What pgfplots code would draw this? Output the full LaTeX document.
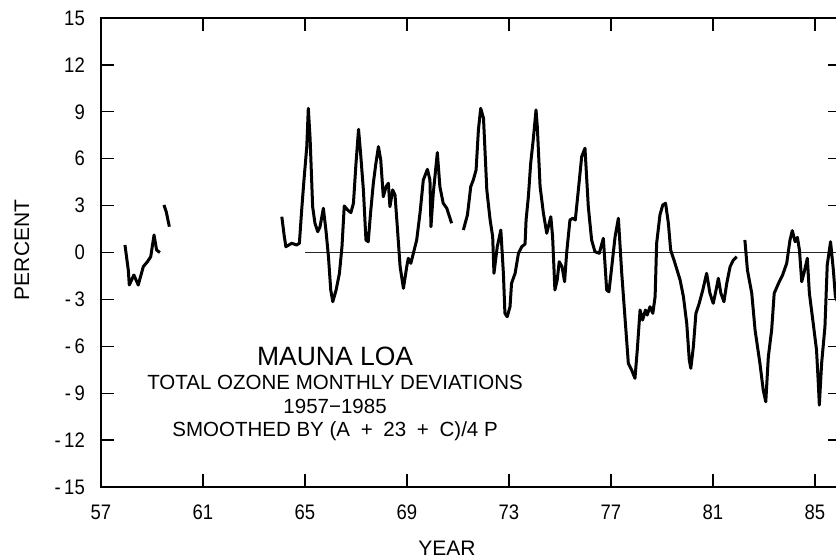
\documentclass[border=0pt]{standalone}
\usepackage{pgfplots}
\pgfplotsset{compat=1.18}
\usepackage{fontspec}
\setmainfont{Liberation Sans}
\newfontfamily\narrowfont[FakeStretch=0.88]{Liberation Sans}

\begin{document}
\begin{tikzpicture}
\begin{axis}[
    at={(0,0)}, anchor=south west,
    scale only axis,
    width=739.5pt, height=469pt,
    xmin=57, xmax=86,
    ymin=-15, ymax=15,
    xtick={57,61,65,69,73,77,81,85},
    ytick={-15,-12,-9,-6,-3,0,3,6,9,12,15},
    yticklabels={-\,15,-\,12,-\,9,-\,6,-\,3,0,3,6,9,12,15},
    xticklabels={57,61,65,69,73,77,81,85},
    tick align=inside,
    major tick length=13pt,
    axis line style={line width=2.2pt},
    every tick/.style={black, line width=1.3pt},
    xticklabel style={font=\narrowfont\fontsize{21}{23}\selectfont, anchor=center, yshift=-25pt, inner sep=0pt},
    yticklabel style={font=\narrowfont\fontsize{21}{23}\selectfont, anchor=east, xshift=-16pt, inner sep=0pt},
    clip=false,
]
% zero line
\addplot[black!85, line width=0.8pt] coordinates {(65,0) (86,0)};

% 1957-1960
\addplot[black, line width=3pt, line join=round] coordinates {
(57.94,0.48) (58.07,-1.12) (58.11,-2.08) (58.29,-1.44) (58.46,-2.08) (58.66,-0.9)
(58.82,-0.59) (58.95,-0.27) (59.08,1.12) (59.18,0.16) (59.31,0.0)
};
\addplot[black, line width=3pt, line join=round] coordinates {
(59.47,3.04) (59.56,2.6) (59.68,1.65)
};

% 1964-1970
\addplot[black, line width=3pt, line join=round] coordinates {
(64.09,2.29) (64.18,1.12) (64.25,0.37) (64.48,0.59) (64.67,0.48) (64.78,0.59)
(64.87,2.72) (64.96,4.64) (65.07,6.77) (65.13,9.22) (65.20,7.30) (65.30,2.93)
(65.39,1.87) (65.50,1.33) (65.59,1.65) (65.72,2.83) (65.82,1.44) (65.92,-0.27)
(66.01,-2.40) (66.09,-3.15) (66.22,-2.40) (66.35,-1.33) (66.45,0.37) (66.54,2.98)
(66.67,2.72) (66.80,2.55) (66.90,3.15) (67.00,5.70) (67.10,7.88) (67.18,6.35)
(67.29,4.00) (67.39,0.80) (67.48,0.69) (67.57,2.51) (67.68,4.43) (67.78,5.70)
(67.88,6.77) (67.97,5.92) (68.07,3.57) (68.18,4.21) (68.27,4.43) (68.33,2.93)
(68.44,4.00) (68.53,3.68) (68.62,1.65) (68.73,-0.91) (68.86,-2.29) (68.99,-0.91)
(69.05,-0.37) (69.15,-0.69) (69.25,-0.05) (69.38,0.80) (69.51,2.51) (69.64,4.64)
(69.80,5.32) (69.90,4.64) (69.94,1.65) (70.03,3.79) (70.19,6.39) (70.29,4.21)
(70.42,3.15) (70.56,2.83) (70.75,1.87)
};

% 1971-1981
\addplot[black, line width=3pt, line join=round] coordinates {
(71.21,1.44) (71.37,2.40) (71.50,4.21) (71.60,4.64) (71.71,5.28) (71.80,7.84)
(71.89,9.22) (72.00,8.59) (72.13,4.00) (72.26,2.08) (72.36,1.01) (72.41,-1.33)
(72.54,0.37) (72.68,1.44) (72.78,-1.33) (72.84,-3.89) (72.93,-4.11) (73.04,-3.47)
(73.10,-1.97) (73.24,-1.33) (73.37,-0.05) (73.50,0.37) (73.63,0.54) (73.67,2.08)
(73.76,3.57) (73.85,5.70) (73.95,7.20) (74.06,9.12) (74.11,8.05) (74.22,4.21)
(74.35,2.51) (74.48,1.23) (74.64,2.29) (74.71,1.01) (74.80,-2.40) (74.89,-1.76)
(74.97,-0.59) (75.08,-0.91) (75.18,-1.87) (75.26,-0.05) (75.39,2.08) (75.50,2.19)
(75.60,2.08) (75.72,4.00) (75.85,6.13) (75.98,6.67) (76.11,2.93) (76.24,0.80)
(76.37,0.05) (76.54,-0.05) (76.70,0.91) (76.83,-2.40) (76.92,-2.51) (77.03,-0.91)
(77.16,1.01) (77.29,2.19) (77.42,-1.30) (77.55,-4.20) (77.68,-7.09) (77.81,-7.52)
(77.94,-8.05) (78.03,-6.24) (78.14,-3.68) (78.24,-4.32) (78.35,-3.68) (78.42,-4.00)
(78.53,-3.47) (78.64,-3.89) (78.73,-2.83) (78.79,0.59) (78.92,2.40) (79.03,3.04)
(79.14,3.15) (79.25,1.87) (79.34,0.16) (79.51,-0.69) (79.71,-1.76) (79.84,-2.83)
(79.97,-4.53) (80.07,-6.88) (80.13,-7.41) (80.23,-6.03) (80.33,-3.89) (80.46,-3.25)
(80.60,-2.40) (80.75,-1.33) (80.88,-2.61) (81.01,-3.25) (81.12,-2.40) (81.21,-1.65)
(81.31,-2.61) (81.43,-3.15) (81.54,-1.97) (81.67,-0.91) (81.80,-0.48) (81.93,-0.27)
};

% 1982-1985
\addplot[black, line width=3pt, line join=round] coordinates {
(82.25,0.80) (82.35,-1.12) (82.52,-2.61) (82.65,-4.96) (82.84,-7.09) (82.97,-8.80)
(83.07,-9.55) (83.17,-6.67) (83.30,-4.96) (83.40,-2.61) (83.57,-1.97) (83.73,-1.44)
(83.89,-0.69) (84.02,0.80) (84.11,1.40) (84.22,0.69) (84.31,0.97) (84.39,0.16)
(84.48,-1.87) (84.58,-1.23) (84.70,-0.37) (84.78,-2.61) (84.93,-4.53) (85.06,-6.24)
(85.13,-8.37) (85.17,-9.76) (85.26,-7.09) (85.39,-4.75) (85.48,-0.80) (85.61,0.69)
(85.72,-1.12) (85.80,-2.83) (85.90,-3.2)
};

\node[inner sep=0pt, font=\fontsize{26.5}{28}\selectfont] at (axis cs:66.18,-6.67) {MAUNA LOA};
\node[inner sep=0pt, font=\fontsize{20.5}{22}\selectfont] at (axis cs:66.18,-8.32) {TOTAL OZONE MONTHLY DEVIATIONS};
\node[inner sep=0pt, font=\fontsize{20.5}{22}\selectfont] at (axis cs:66.18,-9.87) {1957\symbol{"2212}1985};
\node[inner sep=0pt, font=\fontsize{20.5}{22}\selectfont] at (axis cs:66.18,-11.42) {SMOOTHED BY (A\hspace{5pt} + \hspace{5pt}23\hspace{5pt} + \hspace{5pt}C)/4 P};

\node[font=\fontsize{21}{23}\selectfont] at ([yshift=-61pt]axis cs:70.57,-15) {YEAR};
\node[font=\fontsize{21}{23}\selectfont, rotate=90] at ([xshift=-79pt]axis cs:57,0.16) {PERCENT};
\end{axis}
\pgfresetboundingbox
\path[use as bounding box] (-101pt,-72pt) rectangle (735pt,487pt);
\end{tikzpicture}
\end{document}
